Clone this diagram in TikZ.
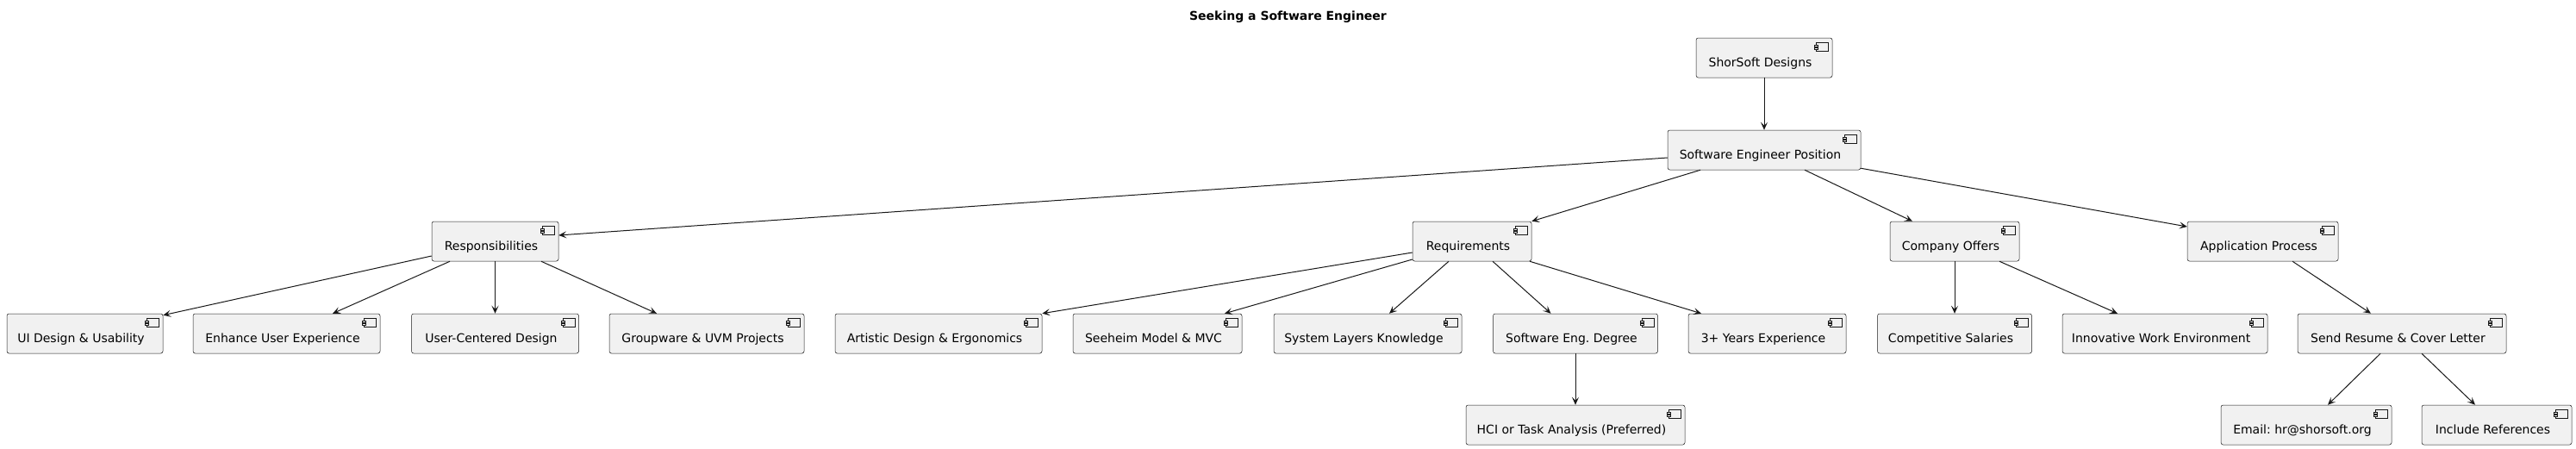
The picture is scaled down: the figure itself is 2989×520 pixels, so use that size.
\documentclass[tikz,border=0pt]{standalone}
\usepackage{fontspec}
\setmainfont{DejaVu Sans}
\usetikzlibrary{arrows.meta}
\frenchspacing
\definecolor{boxfill}{HTML}{F1F1F1}
\definecolor{inkline}{HTML}{181818}
\tikzset{
  comp/.style={draw=inkline, fill=boxfill, line width=0.5pt, rounded corners=2.5pt,
    minimum height=46pt, minimum width=#1, inner xsep=0pt, inner ysep=0pt,
    text height=22pt, text depth=2pt, font=\fontsize{14pt}{17pt}\selectfont},
  iconline/.style={draw=inkline, line width=0.5pt, sharp corners},
  edge/.style={draw=inkline, line width=1pt, -{Stealth[length=9pt,width=8pt,inset=4pt]}}
}
\newcommand{\ctext}[1]{#1\hspace*{9pt}}
\begin{document}
\begin{tikzpicture}[x=1pt,y=-1pt]
\useasboundingbox (0,0) rectangle (2989,520);
\node[anchor=base, font=\fontsize{14pt}{17pt}\selectfont\bfseries] (title) at (1494.5,23.5) {Seeking a Software Engineer};
% level 0/1
\node[comp=158pt] (shor) at (2047,67) {\ctext{ShorSoft Designs}};
\node[comp=224pt] (pos) at (2047,174) {\ctext{Software Engineer Position}};
% level 2
\node[comp=147pt] (resp) at (574.5,280) {\ctext{Responsibilities}};
\node[comp=138pt] (req) at (1708,280) {\ctext{Requirements}};
\node[comp=150pt] (offers) at (2268,280) {\ctext{Company Offers}};
\node[comp=175pt] (app) at (2625.5,280) {\ctext{Application Process}};
% level 3
\node[comp=181pt] (ui) at (98.5,387) {\ctext{UI Design \& Usability}};
\node[comp=217pt] (enh) at (332.5,387) {\ctext{Enhance User Experience}};
\node[comp=194pt] (ucd) at (574.5,387) {\ctext{User-Centered Design}};
\node[comp=226pt] (grp) at (820,387) {\ctext{Groupware \& UVM Projects}};
\node[comp=240pt] (art) at (1089,387) {\ctext{Artistic Design \& Ergonomics}};
\node[comp=196pt] (see) at (1343,387) {\ctext{Seeheim Model \& MVC}};
\node[comp=218pt] (sys) at (1587,387) {\ctext{System Layers Knowledge}};
\node[comp=191pt] (deg) at (1828,387) {\ctext{Software Eng. Degree}};
\node[comp=183pt] (yrs) at (2050.5,387) {\ctext{3+ Years Experience}};
\node[comp=179pt] (sal) at (2268,387) {\ctext{Competitive Salaries}};
\node[comp=238pt] (inn) at (2512,387) {\ctext{Innovative Work Environment}};
\node[comp=242pt] (send) at (2787,387) {\ctext{Send Resume \& Cover Letter}};
% level 4
\node[comp=254pt] (hci) at (1828,493) {\ctext{HCI or Task Analysis (Preferred)}};
\node[comp=198pt] (email) at (2676,493) {\ctext{Email: hr@shorsoft.org}};
\node[comp=174pt] (refs) at (2897,493) {\ctext{Include References}};
% component icons
\foreach \n in {shor,pos,resp,req,offers,app,ui,enh,ucd,grp,art,see,sys,deg,yrs,sal,inn,send,hci,email,refs}{
  \draw[iconline] ([shift={(-19pt,-5pt)}]\n.north east) rectangle ([shift={(-5pt,-15pt)}]\n.north east);
  \draw[iconline, fill=boxfill] ([shift={(-21pt,-8pt)}]\n.north east) rectangle ([shift={(-17pt,-10pt)}]\n.north east);
  \draw[iconline, fill=boxfill] ([shift={(-21pt,-11.5pt)}]\n.north east) rectangle ([shift={(-17pt,-13.5pt)}]\n.north east);
}
% edges
\draw[edge] (shor.south) -- (pos.north);
\draw[edge] ([yshift=-9pt]pos.west) -- ([yshift=7pt]resp.east);
\draw[edge] ([xshift=-74pt]pos.south) -- (req.north east);
\draw[edge] ([xshift=47pt]pos.south) -- ([xshift=-49pt]offers.north);
\draw[edge] ([yshift=2pt]pos.south east) -- ([yshift=17pt]app.west);
\draw[edge] ([yshift=-17pt]resp.west) -- ([yshift=-2pt]ui.north east);
\draw[edge] ([xshift=-52.5pt]resp.south) -- ([xshift=53.5pt]enh.north);
\draw[edge] (resp.south) -- (ucd.north);
\draw[edge] ([xshift=53.5pt]resp.south) -- ([xshift=-58pt]grp.north);
\draw[edge] ([yshift=-13pt]req.west) -- (art.north east);
\draw[edge] ([yshift=-21pt]req.west) -- ([xshift=78pt]see.north);
\draw[edge] ([xshift=-27pt]req.south) -- ([xshift=25pt]sys.north);
\draw[edge] ([xshift=24pt]req.south) -- ([xshift=-28.5pt]deg.north);
\draw[edge] ([xshift=67pt]req.south) -- ([xshift=-76.5pt]yrs.north);
\draw[edge] (deg.south) -- (hci.north);
\draw[edge] (offers.south) -- (sal.north);
\draw[edge] ([xshift=52pt]offers.south) -- ([xshift=-55pt]inn.north);
\draw[edge] ([xshift=34.5pt]app.south) -- ([xshift=-36pt]send.north);
\draw[edge] ([xshift=-25pt]send.south) -- ([xshift=25pt]email.north);
\draw[edge] ([xshift=23pt]send.south) -- ([xshift=-25pt]refs.north);
\end{tikzpicture}
\end{document}
